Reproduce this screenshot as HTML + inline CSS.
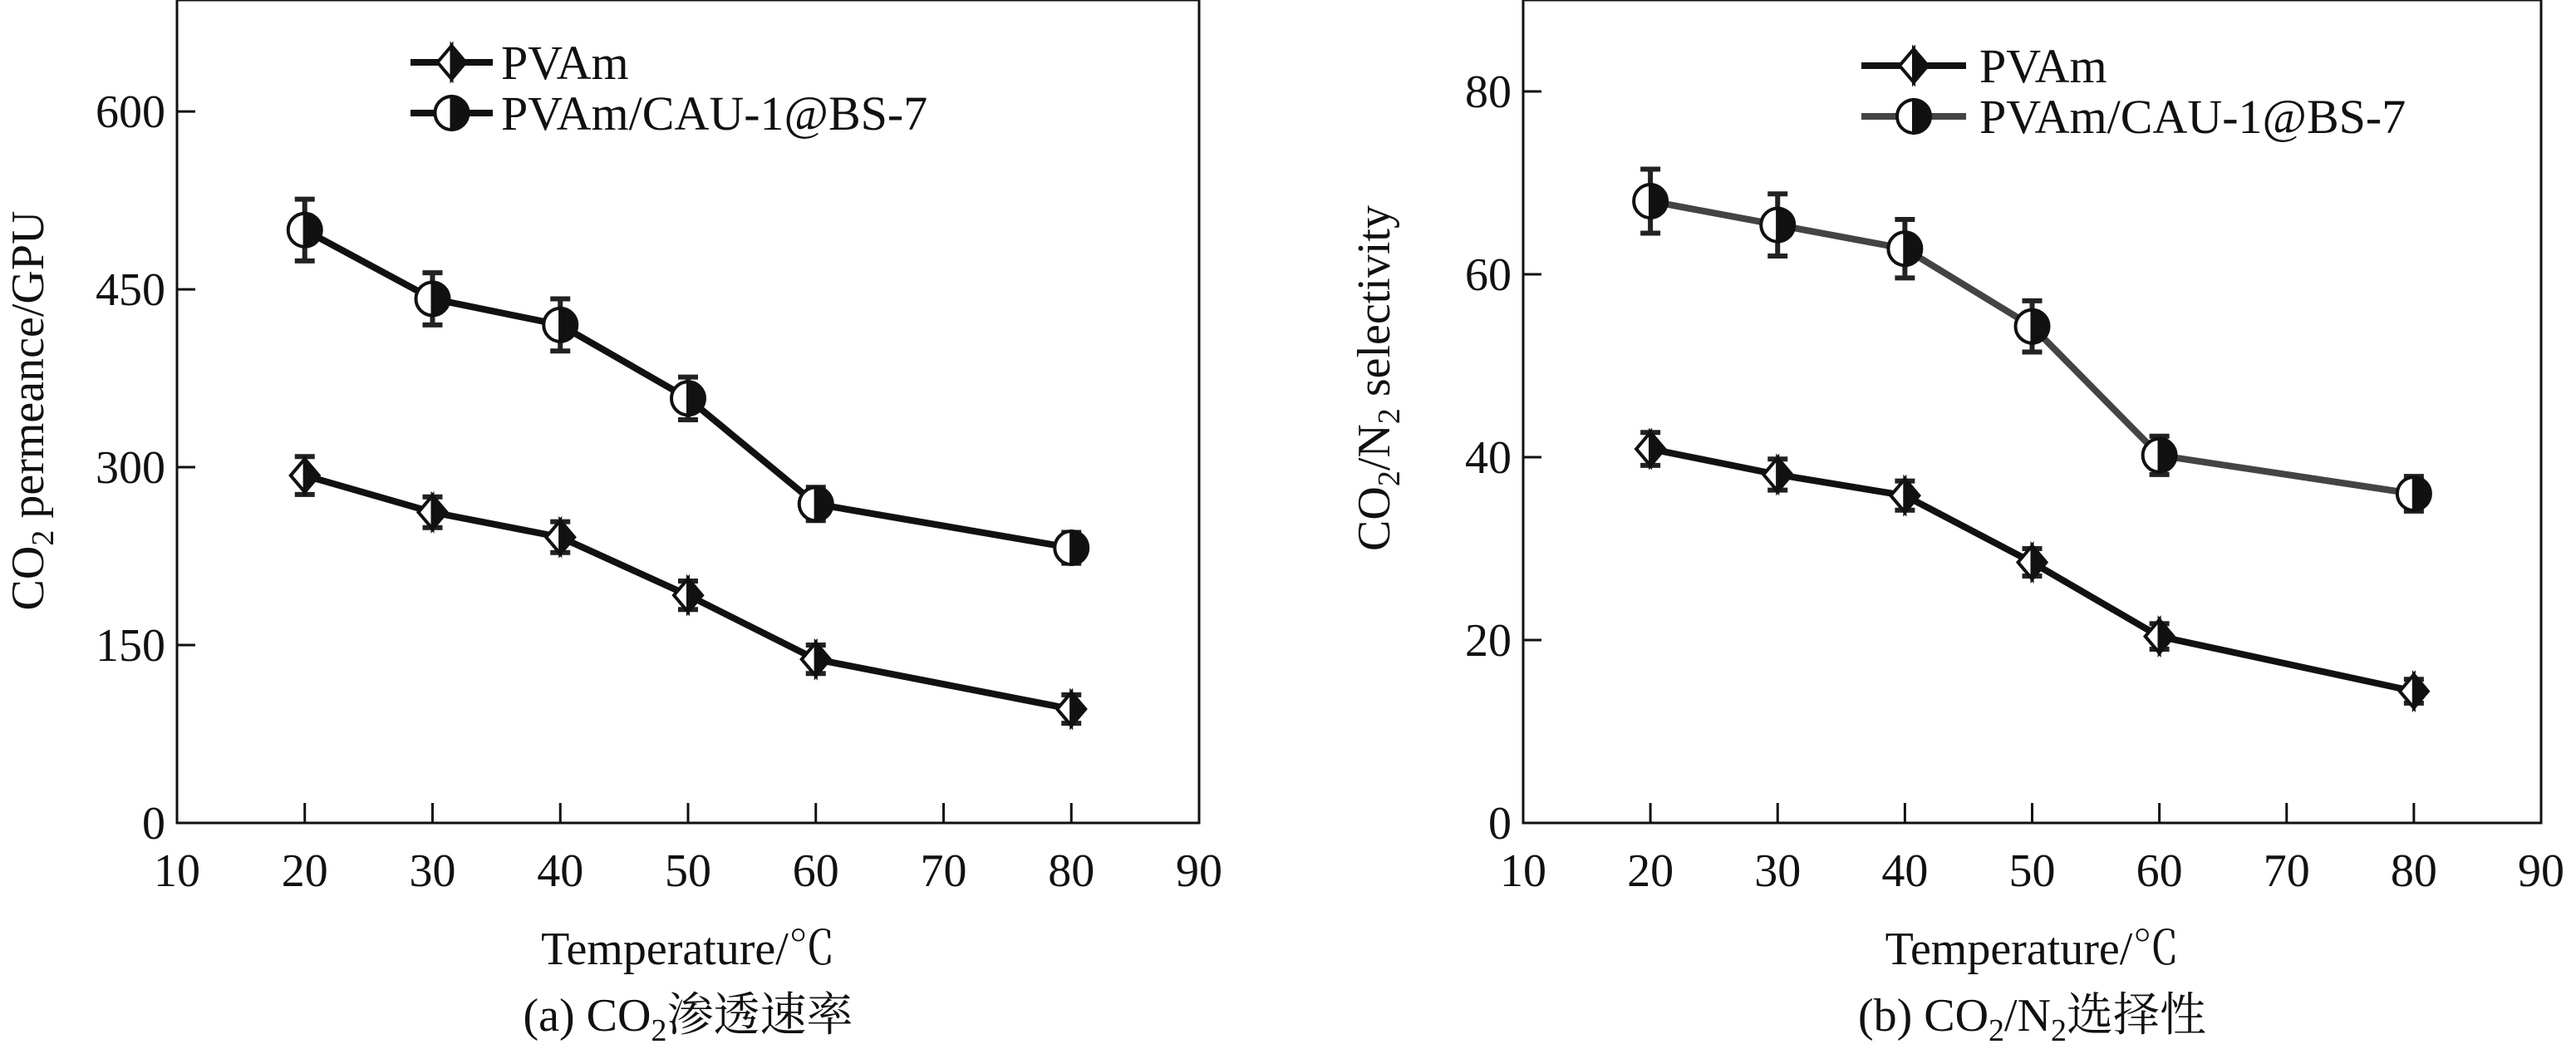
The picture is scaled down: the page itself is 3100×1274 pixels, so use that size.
<!DOCTYPE html>
<html><head><meta charset="utf-8"><style>
html,body{margin:0;padding:0;background:#fff}
svg{display:block}
text{font-family:"Liberation Serif","Noto Serif CJK SC","Noto Sans CJK SC",serif;fill:#111}
</style></head><body>
<svg id="svg" width="3100" height="1274" viewBox="0 0 3100 1274"></svg>
<script>
const temps = [20, 30, 40, 50, 60, 80];
const xTicks = [10, 20, 30, 40, 50, 60, 70, 80, 90];
// chart a
const permPVAm = [293, 262, 241, 192, 138, 96];
const permPVAmErr = [16, 13, 13, 12, 12, 12];
const permCAU = [500, 442, 420, 358, 269, 232];
const permCAUErr = [26, 22, 22, 18, 14, 13];
const permTicks = [0, 150, 300, 450, 600];
// chart b
const selPVAm = [40.9, 38.1, 35.8, 28.5, 20.4, 14.4];
const selPVAmErr = [1.8, 1.7, 1.6, 1.5, 1.4, 1.3];
const selCAU = [68, 65.4, 62.8, 54.3, 40.2, 36];
const selCAUErr = [3.5, 3.4, 3.2, 2.8, 2.1, 1.9];
const selTicks = [0, 20, 40, 60, 80];

const NS = "http://www.w3.org/2000/svg";
const svg = document.getElementById('svg');
function mk(tag, attrs, parent, text){
  const e = document.createElementNS(NS, tag);
  for (const k in attrs) e.setAttribute(k, attrs[k]);
  if (text !== undefined) e.textContent = text;
  (parent || svg).appendChild(e);
  return e;
}
function marker(g, type, cx, cy, r){
  const m = mk('g', {}, g);
  
  
  if (type === 'diamond'){
    const w = r*0.85;
    mk('path', {d:`M${cx},${cy-r} L${cx-w},${cy} L${cx},${cy+r} Z`, fill:'#fff', stroke:'#111', 'stroke-width':4}, m);
    mk('path', {d:`M${cx},${cy-r} L${cx+w},${cy} L${cx},${cy+r} Z`, fill:'#111', stroke:'#111', 'stroke-width':4}, m);
  } else {
    mk('path', {d:`M${cx},${cy-r} A${r},${r} 0 0 0 ${cx},${cy+r} Z`, fill:'#fff', stroke:'#111', 'stroke-width':4}, m);
    mk('path', {d:`M${cx},${cy-r} A${r},${r} 0 0 1 ${cx},${cy+r} Z`, fill:'#111', stroke:'#111', 'stroke-width':4}, m);
  }
}
function chart(o){
  const g = mk('g', {});
  
  
  const X = v => o.x0 + (v - 10) / 80 * (o.x1 - o.x0);
  const Y = v => o.yb - v / o.ymax * (o.yb - o.yt);
  const box = mk('rect', {x:o.x0, y:o.yt, width:o.x1-o.x0, height:o.yb-o.yt, fill:'none', stroke:'#111', 'stroke-width':3}, g);
  
  
  xTicks.forEach(t => {
    if (t > 10 && t < 90) mk('line', {x1:X(t), x2:X(t), y1:o.yb, y2:o.yb-24, stroke:'#111', 'stroke-width':3}, g);
    const tl = mk('text', {x:X(t), y:o.yb+76, 'font-size':56, 'text-anchor':'middle'}, g, String(t));
    
    
  });
  o.yTicks.forEach(t => {
    mk('line', {x1:o.x0, x2:o.x0+22, y1:Y(t), y2:Y(t), stroke:'#111', 'stroke-width':3}, g);
    const tl = mk('text', {x:o.x0-14, y:Y(t)+19, 'font-size':56, 'text-anchor':'end'}, g, String(t));
    
    
  });
  o.series.forEach(s => {
    const sg = mk('g', {}, g);
    
    
    mk('polyline', {points: temps.map((t,i)=>X(t)+','+Y(s.vals[i])).join(' '), fill:'none', stroke:s.color, 'stroke-width':8}, sg);
    temps.forEach((t,i) => {
      const x = X(t), y1 = Y(s.vals[i]+s.err[i]), y2 = Y(s.vals[i]-s.err[i]);
      const eb = mk('path', {d:`M${x},${y1} V${y2} M${x-12},${y1} H${x+12} M${x-12},${y2} H${x+12}`, stroke:'#222', 'stroke-width':6, fill:'none'}, sg);
      
      
      marker(sg, s.type, x, Y(s.vals[i]), 20);
    });
  });
  o.legend.forEach((l, i) => {
    const lg = mk('g', {}, g);
    
    
    mk('line', {x1:l.lx0, x2:l.lx1, y1:l.y, y2:l.y, stroke:l.color, 'stroke-width':8}, lg);
    marker(lg, l.type, (l.lx0+l.lx1)/2, l.y, 20);
    mk('text', {x:l.tx, y:l.y+20, 'font-size':58}, lg, l.label);
  });
  const xt = mk('text', {x:(o.x0+o.x1)/2, y:1160, 'font-size':56, 'text-anchor':'middle'}, g, 'Temperature/℃');
  
  
  const yt = mk('text', {transform:`translate(${o.ytx},${o.yty}) rotate(-90)`, 'font-size':56, 'text-anchor':'middle'}, g);
  yt.innerHTML = o.ytitle;
  
  
  const cap = mk('text', {x:(o.x0+o.x1)/2, y:1240, 'font-size':56, 'text-anchor':'middle'}, g);
  cap.innerHTML = o.caption;
  
  
}
chart({name:'permeance-chart', x0:213, x1:1443, yt:0, yb:990, ymax:694, yTicks:permTicks,
  series:[{name:'series-pvam', vals:permPVAm, err:permPVAmErr, type:'diamond', color:'#111'},
          {name:'series-pvam-cau', vals:permCAU, err:permCAUErr, type:'circle', color:'#111'}],
  legend:[{lx0:494, lx1:593, y:75, tx:603, type:'diamond', color:'#111', label:'PVAm'},
          {lx0:494, lx1:593, y:136, tx:603, type:'circle', color:'#111', label:'PVAm/CAU-1@BS-7'}],
  ytx:52, yty:494, ytitle:'CO<tspan font-size="38" dy="12">2</tspan><tspan dy="-12"> permeance/GPU</tspan>',
  caption:'(a) CO<tspan font-size="38" dy="12">2</tspan><tspan dy="-12">渗透速率</tspan>'});
chart({name:'selectivity-chart', x0:1833, x1:3058, yt:0, yb:990, ymax:90, yTicks:selTicks,
  series:[{name:'series-pvam', vals:selPVAm, err:selPVAmErr, type:'diamond', color:'#111'},
          {name:'series-pvam-cau', vals:selCAU, err:selCAUErr, type:'circle', color:'#444'}],
  legend:[{lx0:2240, lx1:2366, y:79, tx:2382, type:'diamond', color:'#111', label:'PVAm'},
          {lx0:2240, lx1:2366, y:140, tx:2382, type:'circle', color:'#444', label:'PVAm/CAU-1@BS-7'}],
  ytx:1672, yty:455, ytitle:'CO<tspan font-size="38" dy="12">2</tspan><tspan dy="-12">/N</tspan><tspan font-size="38" dy="12">2</tspan><tspan dy="-12"> selectivity</tspan>',
  caption:'(b) CO<tspan font-size="38" dy="12">2</tspan><tspan dy="-12">/N</tspan><tspan font-size="38" dy="12">2</tspan><tspan dy="-12">选择性</tspan>'});
</script>
</body></html>
